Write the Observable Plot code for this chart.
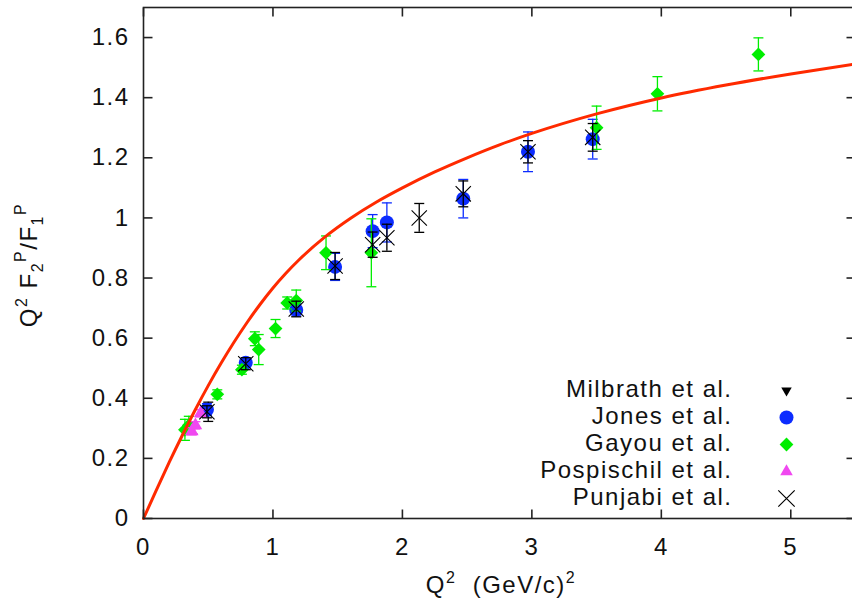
<!DOCTYPE html>
<html><head><meta charset="utf-8">
<script src="https://cdn.jsdelivr.net/npm/d3@7"></script>
<script src="https://cdn.jsdelivr.net/npm/@observablehq/plot@0.6"></script>
<style>body{margin:0;background:#fff} svg{display:block}</style>
</head><body><div id="chart"></div>
<script>
// ---- data ----
const xTicks = [0, 1, 2, 3, 4, 5];
const yTicks = [0, 0.2, 0.4, 0.6, 0.8, 1.0, 1.2, 1.4, 1.6];

const milbrathQ2 = [0.38, 0.50];
const milbrathR = [0.300, 0.355];
const milbrathErr = [0.020, 0.032];

const jonesQ2 = [0.49, 0.79, 1.18, 1.48, 1.77, 1.88, 2.47, 2.97, 3.47];
const jonesR = [0.362, 0.518, 0.694, 0.837, 0.956, 0.985, 1.064, 1.220, 1.262];
const jonesErr = [0.020, 0.012, 0.020, 0.045, 0.055, 0.065, 0.064, 0.066, 0.066];

const gayouQ2 = [0.32, 0.35, 0.57, 0.76, 0.86, 0.89, 1.02, 1.11, 1.18, 1.41, 1.76, 3.50, 3.97, 4.75];
const gayouR = [0.295, 0.310, 0.413, 0.495, 0.598, 0.562, 0.632, 0.717, 0.725, 0.884, 0.884, 1.300, 1.413, 1.544];
const gayouErr = [0.035, 0.030, 0.015, 0.015, 0.023, 0.050, 0.030, 0.020, 0.035, 0.056, 0.113, 0.072, 0.057, 0.055];

const pospQ2 = [0.373, 0.401, 0.441];
const pospR = [0.290, 0.310, 0.350];
const pospErr = [0.012, 0.012, 0.012];

const punjabiQ2 = [0.49, 0.79, 1.18, 1.48, 1.77, 1.88, 2.13, 2.47, 2.97, 3.47];
const punjabiR = [0.355, 0.515, 0.697, 0.840, 0.911, 0.934, 1.000, 1.080, 1.220, 1.268];
const punjabiErr = [0.020, 0.020, 0.026, 0.045, 0.042, 0.045, 0.048, 0.043, 0.037, 0.046];

// fit curve, sampled by eye along the red line
const curveQ2 = [0, 0.1, 0.2, 0.3, 0.4, 0.5, 0.6, 0.7, 0.8, 0.9, 1.0, 1.1, 1.2, 1.4, 1.6, 1.8, 2.0, 2.25, 2.5, 2.75, 3.0, 3.5, 4.0, 4.5, 5.0, 5.5];
const curveR = [0, 0.095, 0.188, 0.277, 0.362, 0.442, 0.517, 0.587, 0.652, 0.712, 0.767, 0.816, 0.860, 0.936, 0.999, 1.053, 1.100, 1.153, 1.200, 1.243, 1.281, 1.346, 1.399, 1.442, 1.479, 1.512];

const legendLabels = ["Milbrath et al.", "Jones et al.", "Gayou et al.", "Pospischil et al.", "Punjabi et al."];

// ---- styling ----
const GREEN = "#00ee00", BLUE = "#0c2cff", PINK = "#f048f0", RED = "#ff2a00", BLACK = "#000";
const FONT = "Liberation Sans, Arial, sans-serif";
const FS = 24;

const rows = (q, r, e) => q.map((v, i) => ({q: v, r: r[i], e: e[i]}));
const milbrath = rows(milbrathQ2, milbrathR, milbrathErr);
const jones = rows(jonesQ2, jonesR, jonesErr);
const gayou = rows(gayouQ2, gayouR, gayouErr);
const posp = rows(pospQ2, pospR, pospErr);
const punjabi = rows(punjabiQ2, punjabiR, punjabiErr);
const curve = curveQ2.map((v, i) => ({q: v, r: curveR[i]}));

const capSym = {draw(ctx) { ctx.moveTo(-5, 0); ctx.lineTo(5, 0); }};
const tickSym = {draw(ctx) { ctx.moveTo(0, 0); ctx.lineTo(9, 0); }};

function errorBars(data, color, w = 1.3) {
  return [
    Plot.ruleX(data, {x: "q", y1: d => d.r - d.e, y2: d => d.r + d.e, stroke: color, strokeWidth: w}),
    Plot.dot(data, {x: "q", y: d => d.r - d.e, symbol: capSym, stroke: color, strokeWidth: w}),
    Plot.dot(data, {x: "q", y: d => d.r + d.e, symbol: capSym, stroke: color, strokeWidth: w})
  ];
}

const legendSymbols = [
  {symbol: "triangle2", fill: BLACK, r: 5, rotate: 180},
  {symbol: "circle", fill: BLUE, r: 7},
  {symbol: "diamond2", fill: GREEN, r: 6.2},
  {symbol: "triangle2", fill: PINK, r: 6},
  {symbol: "times", stroke: BLACK, fill: "none", r: 7.5, strokeWidth: 1.2}
];
const legendDy = [-130, -103, -76, -49, -22];

const legendMarks = legendLabels.flatMap((lab, i) => [
  Plot.text([lab], {text: d => d, frameAnchor: "bottom-right", dx: -123, dy: legendDy[i] + 8, textAnchor: "end",
    fontSize: FS, fill: "#111"}),
  Plot.dot([lab], {frameAnchor: "bottom-right", dx: -69, dy: legendDy[i] + 2, ...legendSymbols[i]})
]);

const svg = Plot.plot({
  width: 852,
  height: 610,
  marginLeft: 143,
  marginRight: -3,
  marginTop: 7,
  marginBottom: 92,
  style: {fontFamily: FONT, background: "#fff"},
  x: {domain: [0, 5.5]},
  y: {domain: [0, 1.7]},
  marks: [
    // tick labels
    Plot.axisY({ticks: yTicks, tickSize: 0, tickPadding: 14, tickFormat: d3.format("~g"), fontSize: FS, label: null, fill: "#111"}),
    Plot.axisX({ticks: xTicks, tickSize: 0, tickPadding: 19, tickFormat: d3.format("~g"), fontSize: FS, label: null, fill: "#111"}),
    // data, in the reference's plotting order
    ...errorBars(milbrath, BLACK),
    Plot.dot(milbrath, {x: "q", y: "r", symbol: "triangle2", fill: BLACK, r: 4.5, rotate: 180}),
    ...errorBars(jones, BLUE),
    Plot.dot(jones, {x: "q", y: "r", symbol: "circle", fill: BLUE, r: 7}),
    ...errorBars(gayou, GREEN),
    Plot.dot(gayou, {x: "q", y: "r", symbol: "diamond2", fill: GREEN, r: 6.2}),
    ...errorBars(posp, PINK),
    Plot.dot(posp, {x: "q", y: "r", symbol: "triangle2", fill: PINK, r: 6.5}),
    ...errorBars(punjabi, BLACK),
    Plot.dot(punjabi, {x: "q", y: "r", symbol: "times", stroke: BLACK, fill: "none", r: 7, strokeWidth: 1.1}),
    // fit curve
    Plot.line(curve, {x: "q", y: "r", stroke: RED, strokeWidth: 3, curve: "monotone-x"}),
    // frame and inward ticks
    Plot.frame({stroke: "#222", strokeWidth: 1.6}),
    Plot.dot(yTicks, {y: d => d, frameAnchor: "left", symbol: tickSym, stroke: "#222", strokeWidth: 1.6}),
    Plot.dot(yTicks, {y: d => d, frameAnchor: "right", symbol: tickSym, rotate: 180, stroke: "#222", strokeWidth: 1.6}),
    Plot.dot(xTicks, {x: d => d, frameAnchor: "bottom", symbol: tickSym, rotate: -90, stroke: "#222", strokeWidth: 1.6}),
    Plot.dot(xTicks, {x: d => d, frameAnchor: "top", symbol: tickSym, rotate: 90, stroke: "#222", strokeWidth: 1.6}),
    ...legendMarks
  ]
});

const s = d3.select(svg);
// all plot text (tick labels and legend) at one size, with gnuplot-like loose letter spacing
s.selectAll("text").style("font-size", FS + "px").style("letter-spacing", "1.5px");
// y-axis title
const yl = s.append("text")
  .attr("transform", "translate(37,265) rotate(-90)")
  .attr("text-anchor", "middle")
  .attr("font-size", FS).attr("fill", "#111").attr("font-family", FONT)
  .style("letter-spacing", "1.5px");
yl.append("tspan").text("Q");
yl.append("tspan").attr("font-size", 16).attr("dy", -10).text("2");
yl.append("tspan").attr("dy", 10).text(" F");
yl.append("tspan").attr("font-size", 16).attr("dy", 6).text("2");
yl.append("tspan").attr("font-size", 16).attr("dy", -17).text("P");
yl.append("tspan").attr("dy", 11).text("/F");
yl.append("tspan").attr("font-size", 16).attr("dy", 6).text("1");
yl.append("tspan").attr("font-size", 16).attr("dy", -17).text("P");
// x-axis title
const xl = s.append("text")
  .attr("x", 501).attr("y", 593)
  .attr("text-anchor", "middle")
  .attr("font-size", FS).attr("fill", "#111").attr("font-family", FONT)
  .style("letter-spacing", "1.5px");
xl.append("tspan").text("Q");
xl.append("tspan").attr("font-size", 16).attr("dy", -10).text("2");
xl.append("tspan").attr("dy", 10).text("  (GeV/c)");
xl.append("tspan").attr("font-size", 16).attr("dy", -10).text("2");

document.getElementById("chart").appendChild(svg);
</script></body></html>
